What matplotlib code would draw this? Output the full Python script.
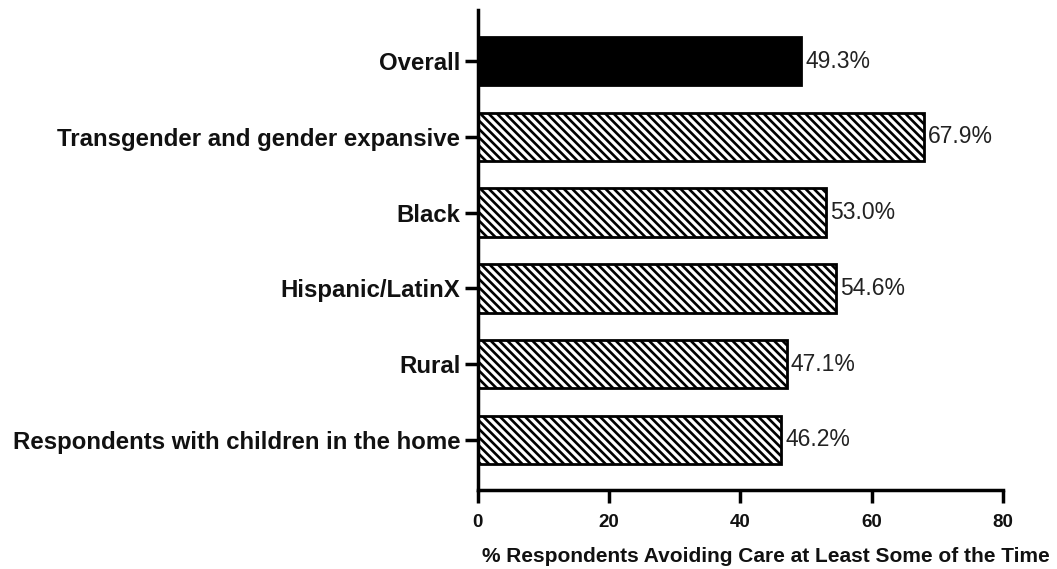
import matplotlib
matplotlib.use("Agg")
import matplotlib.pyplot as plt

categories = [
    "Overall",
    "Transgender and gender expansive",
    "Black",
    "Hispanic/LatinX",
    "Rural",
    "Respondents with children in the home",
]
values = [49.3, 67.9, 53.0, 54.6, 47.1, 46.2]
xticks = [0, 20, 40, 60, 80]
xlabel = "% Respondents Avoiding Care at Least Some of the Time"

plt.rcParams["font.family"] = ["Liberation Sans", "DejaVu Sans"]
plt.rcParams["hatch.linewidth"] = 1.9
plt.rcParams["hatch.color"] = "black"

fig = plt.figure(figsize=(10.57, 5.69), dpi=100)
ax = fig.add_axes([0.452, 0.139, 0.497, 0.843])

pos = list(range(len(categories)))
for i, (cat, v) in enumerate(zip(categories, values)):
    if i == 0:
        ax.barh(i, v, height=0.64, color="black", edgecolor="black", linewidth=2)
    else:
        ax.barh(i, v, height=0.64, facecolor="white", edgecolor="black",
                hatch="\\\\\\\\", linewidth=2)
    ax.text(v + 0.6, i, f"{v:.1f}%", va="center", ha="left", fontsize=16.5,
            color="#222222")

ax.set_ylim(len(categories) - 1 + 0.66, -0.67)
ax.set_xlim(0, 80)
ax.set_yticks(pos)
ax.set_yticklabels(categories, fontsize=17.3, fontweight="bold", color="#111111")
ax.set_xticks(xticks)
ax.set_xticklabels([str(t) for t in xticks], fontsize=13.5, fontweight="bold",
                   color="#111111")
ax.set_xlabel(xlabel, fontsize=15, fontweight="bold", labelpad=12,
              color="#111111")
ax.xaxis.label.set_x(0.549)

for s in ("top", "right"):
    ax.spines[s].set_visible(False)
for s in ("left", "bottom"):
    ax.spines[s].set_linewidth(2.5)
ax.spines["bottom"].set_bounds(0, 80)
ax.tick_params(axis="y", width=2.5, length=9.5, direction="out", pad=3)
ax.tick_params(axis="x", width=2.5, length=9, direction="out", pad=8)

fig.savefig("out.png", dpi=100)
